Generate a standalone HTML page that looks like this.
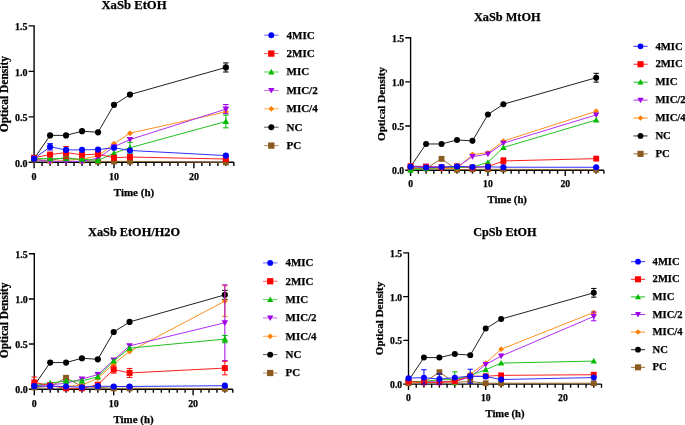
<!DOCTYPE html>
<html><head><meta charset="utf-8"><style>
html,body{margin:0;padding:0;background:#fff;width:685px;height:425px;overflow:hidden;}
svg{display:block;will-change:transform;}
</style></head><body>
<svg width="685" height="425" viewBox="0 0 685 425" font-family="Liberation Serif, serif">
<rect width="685" height="425" fill="#fff"/>
<g><text x="134" y="8.9" font-size="12.7" text-anchor="middle" font-family="Liberation Serif" font-weight="bold" stroke="#000" stroke-width="0.25">XaSb EtOH</text>
<path d="M34.1 25.21V168.3M28.6 162.3H233.85M28.6 116.84H34.1M28.6 71.37H34.1M28.6 25.91H34.1M42.09 162.3V166M50.08 162.3V166M58.07 162.3V166M66.06 162.3V166M74.05 162.3V166M82.04 162.3V166M90.03 162.3V166M98.02 162.3V166M106.01 162.3V166M114 162.3V168.3M121.99 162.3V166M129.98 162.3V166M137.97 162.3V166M145.96 162.3V166M153.95 162.3V166M161.94 162.3V166M169.93 162.3V166M177.92 162.3V166M185.91 162.3V166M193.9 162.3V168.3M201.89 162.3V166M209.88 162.3V166M217.87 162.3V166M225.86 162.3V166M233.85 162.3V166" stroke="#000" stroke-width="1.4" fill="none"/>
<text x="27.5" y="166.5" font-size="10" text-anchor="end" font-family="Liberation Serif" font-weight="bold" stroke="#000" stroke-width="0.25">0.0</text>
<text x="27.5" y="121.04" font-size="10" text-anchor="end" font-family="Liberation Serif" font-weight="bold" stroke="#000" stroke-width="0.25">0.5</text>
<text x="27.5" y="75.57" font-size="10" text-anchor="end" font-family="Liberation Serif" font-weight="bold" stroke="#000" stroke-width="0.25">1.0</text>
<text x="27.5" y="30.11" font-size="10" text-anchor="end" font-family="Liberation Serif" font-weight="bold" stroke="#000" stroke-width="0.25">1.5</text>
<text x="34.1" y="179.8" font-size="10" text-anchor="middle" font-family="Liberation Serif" font-weight="bold" stroke="#000" stroke-width="0.25">0</text>
<text x="114" y="179.8" font-size="10" text-anchor="middle" font-family="Liberation Serif" font-weight="bold" stroke="#000" stroke-width="0.25">10</text>
<text x="193.9" y="179.8" font-size="10" text-anchor="middle" font-family="Liberation Serif" font-weight="bold" stroke="#000" stroke-width="0.25">20</text>
<text x="133.97" y="196.1" font-size="11" text-anchor="middle" font-family="Liberation Serif" font-weight="bold" stroke="#000" stroke-width="0.25">Time (h)</text>
<text transform="translate(7.8 94.1) rotate(-90)" x="0" y="0" font-size="11.5" text-anchor="middle" font-family="Liberation Serif" font-weight="bold" stroke="#000" stroke-width="0.25">Optical Density</text>
<polyline points="34.1,159.57 50.08,160.48 66.06,157.3 82.04,160.48 98.02,161.39 114,161.39 129.98,161.39 225.86,162.3" fill="none" stroke="#9a6a30" stroke-width="1"/>
<rect x="31.1" y="156.57" width="6" height="6" fill="#8b5a1e"/>
<rect x="47.08" y="157.48" width="6" height="6" fill="#8b5a1e"/>
<rect x="63.06" y="154.3" width="6" height="6" fill="#8b5a1e"/>
<rect x="79.04" y="157.48" width="6" height="6" fill="#8b5a1e"/>
<rect x="95.02" y="158.39" width="6" height="6" fill="#8b5a1e"/>
<rect x="111" y="158.39" width="6" height="6" fill="#8b5a1e"/>
<rect x="126.98" y="158.39" width="6" height="6" fill="#8b5a1e"/>
<rect x="222.86" y="159.3" width="6" height="6" fill="#8b5a1e"/>
<polyline points="34.1,158.66 50.08,135.38 66.06,135.38 82.04,131.2 98.02,132.29 114,104.83 129.98,94.56 225.86,67.46" fill="none" stroke="#202020" stroke-width="1"/>
<path d="M225.86 62.91V72.01M223.06 62.91h5.6M223.06 72.01h5.6" stroke="#000000" stroke-width="1" fill="none"/>
<circle cx="34.1" cy="158.66" r="3.1" fill="#000000"/>
<circle cx="50.08" cy="135.38" r="3.1" fill="#000000"/>
<circle cx="66.06" cy="135.38" r="3.1" fill="#000000"/>
<circle cx="82.04" cy="131.2" r="3.1" fill="#000000"/>
<circle cx="98.02" cy="132.29" r="3.1" fill="#000000"/>
<circle cx="114" cy="104.83" r="3.1" fill="#000000"/>
<circle cx="129.98" cy="94.56" r="3.1" fill="#000000"/>
<circle cx="225.86" cy="67.46" r="3.1" fill="#000000"/>
<polyline points="34.1,159.57 50.08,161.39 66.06,160.48 82.04,159.12 98.02,155.93 114,143.66 129.98,133.2 225.86,111.83" fill="none" stroke="#ff9020" stroke-width="1"/>
<path d="M34.1 156.57L37.1 159.57L34.1 162.57L31.1 159.57Z" fill="#ff8000"/>
<path d="M50.08 158.39L53.08 161.39L50.08 164.39L47.08 161.39Z" fill="#ff8000"/>
<path d="M66.06 157.48L69.06 160.48L66.06 163.48L63.06 160.48Z" fill="#ff8000"/>
<path d="M82.04 156.12L85.04 159.12L82.04 162.12L79.04 159.12Z" fill="#ff8000"/>
<path d="M98.02 152.93L101.02 155.93L98.02 158.93L95.02 155.93Z" fill="#ff8000"/>
<path d="M114 140.66L117 143.66L114 146.66L111 143.66Z" fill="#ff8000"/>
<path d="M129.98 130.2L132.98 133.2L129.98 136.2L126.98 133.2Z" fill="#ff8000"/>
<path d="M225.86 108.83L228.86 111.83L225.86 114.83L222.86 111.83Z" fill="#ff8000"/>
<polyline points="34.1,159.57 50.08,161.39 66.06,161.39 82.04,161.39 98.02,158.21 114,146.84 129.98,139.57 225.86,109.11" fill="none" stroke="#b030f0" stroke-width="1"/>
<path d="M225.86 104.56V113.65M223.06 104.56h5.6M223.06 113.65h5.6" stroke="#a000e8" stroke-width="1" fill="none"/>
<path d="M34.1 162.87L37.4 156.97L30.8 156.97Z" fill="#a000e8"/>
<path d="M50.08 164.69L53.38 158.79L46.78 158.79Z" fill="#a000e8"/>
<path d="M66.06 164.69L69.36 158.79L62.76 158.79Z" fill="#a000e8"/>
<path d="M82.04 164.69L85.34 158.79L78.74 158.79Z" fill="#a000e8"/>
<path d="M98.02 161.51L101.32 155.61L94.72 155.61Z" fill="#a000e8"/>
<path d="M114 150.14L117.3 144.24L110.7 144.24Z" fill="#a000e8"/>
<path d="M129.98 142.87L133.28 136.97L126.68 136.97Z" fill="#a000e8"/>
<path d="M225.86 112.41L229.16 106.51L222.56 106.51Z" fill="#a000e8"/>
<polyline points="34.1,158.66 50.08,158.66 66.06,158.66 82.04,159.12 98.02,160.48 114,153.21 129.98,147.75 225.86,121.47" fill="none" stroke="#20c020" stroke-width="1"/>
<path d="M129.98 142.3V153.21M127.18 142.3h5.6M127.18 153.21h5.6" stroke="#00bb00" stroke-width="1" fill="none"/>
<path d="M225.86 115.11V127.84M223.06 115.11h5.6M223.06 127.84h5.6" stroke="#00bb00" stroke-width="1" fill="none"/>
<path d="M34.1 155.36L37.4 161.26L30.8 161.26Z" fill="#00bb00"/>
<path d="M50.08 155.36L53.38 161.26L46.78 161.26Z" fill="#00bb00"/>
<path d="M66.06 155.36L69.36 161.26L62.76 161.26Z" fill="#00bb00"/>
<path d="M82.04 155.82L85.34 161.72L78.74 161.72Z" fill="#00bb00"/>
<path d="M98.02 157.18L101.32 163.08L94.72 163.08Z" fill="#00bb00"/>
<path d="M114 149.91L117.3 155.81L110.7 155.81Z" fill="#00bb00"/>
<path d="M129.98 144.45L133.28 150.35L126.68 150.35Z" fill="#00bb00"/>
<path d="M225.86 118.17L229.16 124.07L222.56 124.07Z" fill="#00bb00"/>
<polyline points="34.1,157.75 50.08,154.57 66.06,152.57 82.04,154.84 98.02,154.12 114,157.75 129.98,157.03 225.86,159.03" fill="none" stroke="#ff2020" stroke-width="1"/>
<path d="M66.06 146.48V158.66M63.26 146.48h5.6M63.26 158.66h5.6" stroke="#ff0000" stroke-width="1" fill="none"/>
<rect x="31.1" y="154.75" width="6" height="6" fill="#ff0000"/>
<rect x="47.08" y="151.57" width="6" height="6" fill="#ff0000"/>
<rect x="63.06" y="149.57" width="6" height="6" fill="#ff0000"/>
<rect x="79.04" y="151.84" width="6" height="6" fill="#ff0000"/>
<rect x="95.02" y="151.12" width="6" height="6" fill="#ff0000"/>
<rect x="111" y="154.75" width="6" height="6" fill="#ff0000"/>
<rect x="126.98" y="154.03" width="6" height="6" fill="#ff0000"/>
<rect x="222.86" y="156.03" width="6" height="6" fill="#ff0000"/>
<polyline points="34.1,158.66 50.08,146.84 66.06,149.93 82.04,149.84 98.02,149.57 114,147.75 129.98,150.48 225.86,155.57" fill="none" stroke="#3030ff" stroke-width="1"/>
<path d="M50.08 143.66V150.02M47.28 143.66h5.6M47.28 150.02h5.6" stroke="#0000ff" stroke-width="1" fill="none"/>
<circle cx="34.1" cy="158.66" r="3.1" fill="#0000ff"/>
<circle cx="50.08" cy="146.84" r="3.1" fill="#0000ff"/>
<circle cx="66.06" cy="149.93" r="3.1" fill="#0000ff"/>
<circle cx="82.04" cy="149.84" r="3.1" fill="#0000ff"/>
<circle cx="98.02" cy="149.57" r="3.1" fill="#0000ff"/>
<circle cx="114" cy="147.75" r="3.1" fill="#0000ff"/>
<circle cx="129.98" cy="150.48" r="3.1" fill="#0000ff"/>
<circle cx="225.86" cy="155.57" r="3.1" fill="#0000ff"/>
<path d="M264.1 35.2H278.6" stroke="#3030ff" stroke-width="1" opacity="0.75"/>
<circle cx="271.3" cy="35.2" r="2.94" fill="#0000ff"/>
<text x="286.5" y="38.5" font-size="11" font-family="Liberation Serif" font-weight="bold" stroke="#000" stroke-width="0.25">4MIC</text>
<path d="M264.1 53.6H278.6" stroke="#ff2020" stroke-width="1" opacity="0.75"/>
<rect x="268.15" y="50.45" width="6.3" height="6.3" fill="#ff0000"/>
<text x="286.5" y="56.9" font-size="11" font-family="Liberation Serif" font-weight="bold" stroke="#000" stroke-width="0.25">2MIC</text>
<path d="M264.1 72H278.6" stroke="#20c020" stroke-width="1" opacity="0.75"/>
<path d="M271.3 68.86L274.44 74.47L268.17 74.47Z" fill="#00bb00"/>
<text x="286.5" y="75.3" font-size="11" font-family="Liberation Serif" font-weight="bold" stroke="#000" stroke-width="0.25">MIC</text>
<path d="M264.1 90.4H278.6" stroke="#b030f0" stroke-width="1" opacity="0.75"/>
<path d="M271.3 93.54L274.44 87.93L268.17 87.93Z" fill="#a000e8"/>
<text x="286.5" y="93.7" font-size="11" font-family="Liberation Serif" font-weight="bold" stroke="#000" stroke-width="0.25">MIC/2</text>
<path d="M264.1 108.8H278.6" stroke="#ff9020" stroke-width="1" opacity="0.75"/>
<path d="M271.3 105.95L274.15 108.8L271.3 111.65L268.45 108.8Z" fill="#ff8000"/>
<text x="286.5" y="112.1" font-size="11" font-family="Liberation Serif" font-weight="bold" stroke="#000" stroke-width="0.25">MIC/4</text>
<path d="M264.1 127.2H278.6" stroke="#202020" stroke-width="1" opacity="0.75"/>
<circle cx="271.3" cy="127.2" r="2.94" fill="#000000"/>
<text x="286.5" y="130.5" font-size="11" font-family="Liberation Serif" font-weight="bold" stroke="#000" stroke-width="0.25">NC</text>
<path d="M264.1 145.6H278.6" stroke="#9a6a30" stroke-width="1" opacity="0.75"/>
<rect x="268.15" y="142.45" width="6.3" height="6.3" fill="#8b5a1e"/>
<text x="286.5" y="148.9" font-size="11" font-family="Liberation Serif" font-weight="bold" stroke="#000" stroke-width="0.25">PC</text></g>
<g><text x="507.3" y="20.8" font-size="12.3" text-anchor="middle" font-family="Liberation Serif" font-weight="bold" stroke="#000" stroke-width="0.25">XaSb MtOH</text>
<path d="M410.6 37.02V176.03M405.25 170.2H603.92M405.25 126.03H410.6M405.25 81.87H410.6M405.25 37.7H410.6M418.33 170.2V173.8M426.07 170.2V173.8M433.8 170.2V173.8M441.53 170.2V173.8M449.27 170.2V173.8M457 170.2V173.8M464.73 170.2V173.8M472.46 170.2V173.8M480.2 170.2V173.8M487.93 170.2V176.03M495.66 170.2V173.8M503.4 170.2V173.8M511.13 170.2V173.8M518.86 170.2V173.8M526.6 170.2V173.8M534.33 170.2V173.8M542.06 170.2V173.8M549.79 170.2V173.8M557.53 170.2V173.8M565.26 170.2V176.03M572.99 170.2V173.8M580.73 170.2V173.8M588.46 170.2V173.8M596.19 170.2V173.8M603.92 170.2V173.8" stroke="#000" stroke-width="1.36" fill="none"/>
<text x="404.18" y="174.28" font-size="9.72" text-anchor="end" font-family="Liberation Serif" font-weight="bold" stroke="#000" stroke-width="0.25">0.0</text>
<text x="404.18" y="130.12" font-size="9.72" text-anchor="end" font-family="Liberation Serif" font-weight="bold" stroke="#000" stroke-width="0.25">0.5</text>
<text x="404.18" y="85.95" font-size="9.72" text-anchor="end" font-family="Liberation Serif" font-weight="bold" stroke="#000" stroke-width="0.25">1.0</text>
<text x="404.18" y="41.79" font-size="9.72" text-anchor="end" font-family="Liberation Serif" font-weight="bold" stroke="#000" stroke-width="0.25">1.5</text>
<text x="410.6" y="187.21" font-size="9.72" text-anchor="middle" font-family="Liberation Serif" font-weight="bold" stroke="#000" stroke-width="0.25">0</text>
<text x="487.93" y="187.21" font-size="9.72" text-anchor="middle" font-family="Liberation Serif" font-weight="bold" stroke="#000" stroke-width="0.25">10</text>
<text x="565.26" y="187.21" font-size="9.72" text-anchor="middle" font-family="Liberation Serif" font-weight="bold" stroke="#000" stroke-width="0.25">20</text>
<text x="507.26" y="203.05" font-size="10.69" text-anchor="middle" font-family="Liberation Serif" font-weight="bold" stroke="#000" stroke-width="0.25">Time (h)</text>
<text transform="translate(385.04 103.95) rotate(-90)" x="0" y="0" font-size="11.18" text-anchor="middle" font-family="Liberation Serif" font-weight="bold" stroke="#000" stroke-width="0.25">Optical Density</text>
<polyline points="410.6,168.43 426.07,168.43 441.53,158.81 457,169.76 472.46,169.32 487.93,169.32 503.4,169.32 596.19,169.76" fill="none" stroke="#9a6a30" stroke-width="1"/>
<rect x="407.68" y="165.52" width="5.83" height="5.83" fill="#8b5a1e"/>
<rect x="423.15" y="165.52" width="5.83" height="5.83" fill="#8b5a1e"/>
<rect x="438.62" y="155.89" width="5.83" height="5.83" fill="#8b5a1e"/>
<rect x="454.08" y="166.84" width="5.83" height="5.83" fill="#8b5a1e"/>
<rect x="469.55" y="166.4" width="5.83" height="5.83" fill="#8b5a1e"/>
<rect x="485.01" y="166.4" width="5.83" height="5.83" fill="#8b5a1e"/>
<rect x="500.48" y="166.4" width="5.83" height="5.83" fill="#8b5a1e"/>
<rect x="593.28" y="166.84" width="5.83" height="5.83" fill="#8b5a1e"/>
<polyline points="410.6,166.67 426.07,143.97 441.53,143.97 457,139.99 472.46,140.87 487.93,114.55 503.4,104.22 596.19,77.72" fill="none" stroke="#202020" stroke-width="1"/>
<path d="M596.19 73.3V82.13M593.47 73.3h5.44M593.47 82.13h5.44" stroke="#000000" stroke-width="1" fill="none"/>
<circle cx="410.6" cy="166.67" r="3.01" fill="#000000"/>
<circle cx="426.07" cy="143.97" r="3.01" fill="#000000"/>
<circle cx="441.53" cy="143.97" r="3.01" fill="#000000"/>
<circle cx="457" cy="139.99" r="3.01" fill="#000000"/>
<circle cx="472.46" cy="140.87" r="3.01" fill="#000000"/>
<circle cx="487.93" cy="114.55" r="3.01" fill="#000000"/>
<circle cx="503.4" cy="104.22" r="3.01" fill="#000000"/>
<circle cx="596.19" cy="77.72" r="3.01" fill="#000000"/>
<polyline points="410.6,167.55 426.07,168.43 441.53,168.43 457,168.43 472.46,154.48 487.93,152.8 503.4,141.05 596.19,111.28" fill="none" stroke="#ff9020" stroke-width="1"/>
<path d="M410.6 164.63L413.52 167.55L410.6 170.47L407.68 167.55Z" fill="#ff8000"/>
<path d="M426.07 165.52L428.98 168.43L426.07 171.35L423.15 168.43Z" fill="#ff8000"/>
<path d="M441.53 165.52L444.45 168.43L441.53 171.35L438.62 168.43Z" fill="#ff8000"/>
<path d="M457 165.52L459.91 168.43L457 171.35L454.08 168.43Z" fill="#ff8000"/>
<path d="M472.46 151.56L475.38 154.48L472.46 157.39L469.55 154.48Z" fill="#ff8000"/>
<path d="M487.93 149.88L490.85 152.8L487.93 155.71L485.01 152.8Z" fill="#ff8000"/>
<path d="M503.4 138.14L506.31 141.05L503.4 143.97L500.48 141.05Z" fill="#ff8000"/>
<path d="M596.19 108.37L599.11 111.28L596.19 114.2L593.28 111.28Z" fill="#ff8000"/>
<polyline points="410.6,166.67 426.07,166.23 441.53,167.11 457,167.11 472.46,156.51 487.93,154.12 503.4,143.17 596.19,114.91" fill="none" stroke="#b030f0" stroke-width="1"/>
<path d="M410.6 169.87L413.81 164.14L407.39 164.14Z" fill="#a000e8"/>
<path d="M426.07 169.43L429.27 163.7L422.86 163.7Z" fill="#a000e8"/>
<path d="M441.53 170.32L444.74 164.58L438.32 164.58Z" fill="#a000e8"/>
<path d="M457 170.32L460.21 164.58L453.79 164.58Z" fill="#a000e8"/>
<path d="M472.46 159.72L475.67 153.98L469.26 153.98Z" fill="#a000e8"/>
<path d="M487.93 157.33L491.14 151.6L484.72 151.6Z" fill="#a000e8"/>
<path d="M503.4 146.38L506.6 140.64L500.19 140.64Z" fill="#a000e8"/>
<path d="M596.19 118.11L599.4 112.38L592.98 112.38Z" fill="#a000e8"/>
<polyline points="410.6,170.2 426.07,168.43 441.53,167.55 457,167.55 472.46,167.02 487.93,162.34 503.4,147.5 596.19,120.03" fill="none" stroke="#20c020" stroke-width="1"/>
<path d="M410.6 166.99L413.81 172.73L407.39 172.73Z" fill="#00bb00"/>
<path d="M426.07 165.23L429.27 170.96L422.86 170.96Z" fill="#00bb00"/>
<path d="M441.53 164.34L444.74 170.08L438.32 170.08Z" fill="#00bb00"/>
<path d="M457 164.34L460.21 170.08L453.79 170.08Z" fill="#00bb00"/>
<path d="M472.46 163.81L475.67 169.55L469.26 169.55Z" fill="#00bb00"/>
<path d="M487.93 159.13L491.14 164.87L484.72 164.87Z" fill="#00bb00"/>
<path d="M503.4 144.29L506.6 150.03L500.19 150.03Z" fill="#00bb00"/>
<path d="M596.19 116.82L599.4 122.56L592.98 122.56Z" fill="#00bb00"/>
<polyline points="410.6,166.23 426.07,166.67 441.53,167.55 457,166.23 472.46,167.55 487.93,166.67 503.4,160.93 596.19,158.63" fill="none" stroke="#ff2020" stroke-width="1"/>
<path d="M503.4 157.83V164.02M500.67 157.83h5.44M500.67 164.02h5.44" stroke="#ff0000" stroke-width="1" fill="none"/>
<rect x="407.68" y="163.31" width="5.83" height="5.83" fill="#ff0000"/>
<rect x="423.15" y="163.75" width="5.83" height="5.83" fill="#ff0000"/>
<rect x="438.62" y="164.63" width="5.83" height="5.83" fill="#ff0000"/>
<rect x="454.08" y="163.31" width="5.83" height="5.83" fill="#ff0000"/>
<rect x="469.55" y="164.63" width="5.83" height="5.83" fill="#ff0000"/>
<rect x="485.01" y="163.75" width="5.83" height="5.83" fill="#ff0000"/>
<rect x="500.48" y="158.01" width="5.83" height="5.83" fill="#ff0000"/>
<rect x="593.28" y="155.71" width="5.83" height="5.83" fill="#ff0000"/>
<polyline points="410.6,166.67 426.07,167.55 441.53,167.11 457,166.4 472.46,167.02 487.93,166.84 503.4,167.2 596.19,167.29" fill="none" stroke="#3030ff" stroke-width="1"/>
<circle cx="410.6" cy="166.67" r="3.01" fill="#0000ff"/>
<circle cx="426.07" cy="167.55" r="3.01" fill="#0000ff"/>
<circle cx="441.53" cy="167.11" r="3.01" fill="#0000ff"/>
<circle cx="457" cy="166.4" r="3.01" fill="#0000ff"/>
<circle cx="472.46" cy="167.02" r="3.01" fill="#0000ff"/>
<circle cx="487.93" cy="166.84" r="3.01" fill="#0000ff"/>
<circle cx="503.4" cy="167.2" r="3.01" fill="#0000ff"/>
<circle cx="596.19" cy="167.29" r="3.01" fill="#0000ff"/>
<path d="M633.5 46.3H647.6" stroke="#3030ff" stroke-width="1" opacity="1.0"/>
<circle cx="640.5" cy="46.3" r="2.86" fill="#0000ff"/>
<text x="655.4" y="49.51" font-size="10.69" font-family="Liberation Serif" font-weight="bold" stroke="#000" stroke-width="0.25">4MIC</text>
<path d="M633.5 64.23H647.6" stroke="#ff2020" stroke-width="1" opacity="1.0"/>
<rect x="637.44" y="61.17" width="6.12" height="6.12" fill="#ff0000"/>
<text x="655.4" y="67.44" font-size="10.69" font-family="Liberation Serif" font-weight="bold" stroke="#000" stroke-width="0.25">2MIC</text>
<path d="M633.5 82.16H647.6" stroke="#20c020" stroke-width="1" opacity="1.0"/>
<path d="M640.5 79.11L643.55 84.56L637.45 84.56Z" fill="#00bb00"/>
<text x="655.4" y="85.37" font-size="10.69" font-family="Liberation Serif" font-weight="bold" stroke="#000" stroke-width="0.25">MIC</text>
<path d="M633.5 100.09H647.6" stroke="#b030f0" stroke-width="1" opacity="1.0"/>
<path d="M640.5 103.14L643.55 97.69L637.45 97.69Z" fill="#a000e8"/>
<text x="655.4" y="103.3" font-size="10.69" font-family="Liberation Serif" font-weight="bold" stroke="#000" stroke-width="0.25">MIC/2</text>
<path d="M633.5 118.02H647.6" stroke="#ff9020" stroke-width="1" opacity="1.0"/>
<path d="M640.5 115.25L643.27 118.02L640.5 120.79L637.73 118.02Z" fill="#ff8000"/>
<text x="655.4" y="121.23" font-size="10.69" font-family="Liberation Serif" font-weight="bold" stroke="#000" stroke-width="0.25">MIC/4</text>
<path d="M633.5 135.95H647.6" stroke="#202020" stroke-width="1" opacity="1.0"/>
<circle cx="640.5" cy="135.95" r="2.86" fill="#000000"/>
<text x="655.4" y="139.16" font-size="10.69" font-family="Liberation Serif" font-weight="bold" stroke="#000" stroke-width="0.25">NC</text>
<path d="M633.5 153.88H647.6" stroke="#9a6a30" stroke-width="1" opacity="1.0"/>
<rect x="637.44" y="150.82" width="6.12" height="6.12" fill="#8b5a1e"/>
<text x="655.4" y="157.09" font-size="10.69" font-family="Liberation Serif" font-weight="bold" stroke="#000" stroke-width="0.25">PC</text></g>
<g><text x="134" y="236.1" font-size="12.3" text-anchor="middle" font-family="Liberation Serif" font-weight="bold" stroke="#000" stroke-width="0.25">XaSb EtOH/H2O</text>
<path d="M34.3 253.1V395.16M28.84 389.2H232.8M28.84 344.06H34.3M28.84 298.93H34.3M28.84 253.79H34.3M42.24 389.2V392.87M50.18 389.2V392.87M58.12 389.2V392.87M66.06 389.2V392.87M74 389.2V392.87M81.94 389.2V392.87M89.88 389.2V392.87M97.82 389.2V392.87M105.76 389.2V392.87M113.7 389.2V395.16M121.64 389.2V392.87M129.58 389.2V392.87M137.52 389.2V392.87M145.46 389.2V392.87M153.4 389.2V392.87M161.34 389.2V392.87M169.28 389.2V392.87M177.22 389.2V392.87M185.16 389.2V392.87M193.1 389.2V395.16M201.04 389.2V392.87M208.98 389.2V392.87M216.92 389.2V392.87M224.86 389.2V392.87M232.8 389.2V392.87" stroke="#000" stroke-width="1.39" fill="none"/>
<text x="27.75" y="393.37" font-size="9.93" text-anchor="end" font-family="Liberation Serif" font-weight="bold" stroke="#000" stroke-width="0.25">0.0</text>
<text x="27.75" y="348.24" font-size="9.93" text-anchor="end" font-family="Liberation Serif" font-weight="bold" stroke="#000" stroke-width="0.25">0.5</text>
<text x="27.75" y="303.1" font-size="9.93" text-anchor="end" font-family="Liberation Serif" font-weight="bold" stroke="#000" stroke-width="0.25">1.0</text>
<text x="27.75" y="257.97" font-size="9.93" text-anchor="end" font-family="Liberation Serif" font-weight="bold" stroke="#000" stroke-width="0.25">1.5</text>
<text x="34.3" y="406.58" font-size="9.93" text-anchor="middle" font-family="Liberation Serif" font-weight="bold" stroke="#000" stroke-width="0.25">0</text>
<text x="113.7" y="406.58" font-size="9.93" text-anchor="middle" font-family="Liberation Serif" font-weight="bold" stroke="#000" stroke-width="0.25">10</text>
<text x="193.1" y="406.58" font-size="9.93" text-anchor="middle" font-family="Liberation Serif" font-weight="bold" stroke="#000" stroke-width="0.25">20</text>
<text x="133.55" y="422.76" font-size="10.92" text-anchor="middle" font-family="Liberation Serif" font-weight="bold" stroke="#000" stroke-width="0.25">Time (h)</text>
<text transform="translate(8.18 320.3) rotate(-90)" x="0" y="0" font-size="11.42" text-anchor="middle" font-family="Liberation Serif" font-weight="bold" stroke="#000" stroke-width="0.25">Optical Density</text>
<polyline points="34.3,387.39 50.18,386.49 66.06,377.83 81.94,386.49 97.82,387.39 113.7,388.3 129.58,388.3 224.86,388.75" fill="none" stroke="#9a6a30" stroke-width="1"/>
<rect x="31.32" y="384.42" width="5.96" height="5.96" fill="#8b5a1e"/>
<rect x="47.2" y="383.51" width="5.96" height="5.96" fill="#8b5a1e"/>
<rect x="63.08" y="374.85" width="5.96" height="5.96" fill="#8b5a1e"/>
<rect x="78.96" y="383.51" width="5.96" height="5.96" fill="#8b5a1e"/>
<rect x="94.84" y="384.42" width="5.96" height="5.96" fill="#8b5a1e"/>
<rect x="110.72" y="385.32" width="5.96" height="5.96" fill="#8b5a1e"/>
<rect x="126.6" y="385.32" width="5.96" height="5.96" fill="#8b5a1e"/>
<rect x="221.88" y="385.77" width="5.96" height="5.96" fill="#8b5a1e"/>
<polyline points="34.3,385.59 50.18,362.57 66.06,362.57 81.94,358.24 97.82,359.32 113.7,331.97 129.58,321.95 224.86,294.87" fill="none" stroke="#202020" stroke-width="1"/>
<path d="M224.86 290.35V299.38M222.08 290.35h5.56M222.08 299.38h5.56" stroke="#000000" stroke-width="1" fill="none"/>
<circle cx="34.3" cy="385.59" r="3.08" fill="#000000"/>
<circle cx="50.18" cy="362.57" r="3.08" fill="#000000"/>
<circle cx="66.06" cy="362.57" r="3.08" fill="#000000"/>
<circle cx="81.94" cy="358.24" r="3.08" fill="#000000"/>
<circle cx="97.82" cy="359.32" r="3.08" fill="#000000"/>
<circle cx="113.7" cy="331.97" r="3.08" fill="#000000"/>
<circle cx="129.58" cy="321.95" r="3.08" fill="#000000"/>
<circle cx="224.86" cy="294.87" r="3.08" fill="#000000"/>
<polyline points="34.3,386.49 50.18,386.49 66.06,386.49 81.94,385.14 97.82,378.37 113.7,363.92 129.58,351.47 224.86,301.1" fill="none" stroke="#ff9020" stroke-width="1"/>
<path d="M224.86 285.75V316.44M222.08 285.75h5.56M222.08 316.44h5.56" stroke="#ff8000" stroke-width="1" fill="none"/>
<path d="M34.3 383.51L37.28 386.49L34.3 389.47L31.32 386.49Z" fill="#ff8000"/>
<path d="M50.18 383.51L53.16 386.49L50.18 389.47L47.2 386.49Z" fill="#ff8000"/>
<path d="M66.06 383.51L69.04 386.49L66.06 389.47L63.08 386.49Z" fill="#ff8000"/>
<path d="M81.94 382.16L84.92 385.14L81.94 388.12L78.96 385.14Z" fill="#ff8000"/>
<path d="M97.82 375.39L100.8 378.37L97.82 381.35L94.84 378.37Z" fill="#ff8000"/>
<path d="M113.7 360.95L116.68 363.92L113.7 366.9L110.72 363.92Z" fill="#ff8000"/>
<path d="M129.58 348.49L132.56 351.47L129.58 354.45L126.6 351.47Z" fill="#ff8000"/>
<path d="M224.86 298.12L227.84 301.1L224.86 304.08L221.88 301.1Z" fill="#ff8000"/>
<polyline points="34.3,385.59 50.18,384.69 66.06,383.33 81.94,379 97.82,374.58 113.7,360.04 129.58,345.87 224.86,322.76" fill="none" stroke="#b030f0" stroke-width="1"/>
<path d="M224.86 284.85V360.67M222.08 284.85h5.56M222.08 360.67h5.56" stroke="#a000e8" stroke-width="1" fill="none"/>
<path d="M34.3 388.87L37.58 383.01L31.02 383.01Z" fill="#a000e8"/>
<path d="M50.18 387.96L53.46 382.1L46.9 382.1Z" fill="#a000e8"/>
<path d="M66.06 386.61L69.34 380.75L62.78 380.75Z" fill="#a000e8"/>
<path d="M81.94 382.28L85.22 376.42L78.66 376.42Z" fill="#a000e8"/>
<path d="M97.82 377.85L101.1 371.99L94.54 371.99Z" fill="#a000e8"/>
<path d="M113.7 363.32L116.98 357.46L110.42 357.46Z" fill="#a000e8"/>
<path d="M129.58 349.15L132.86 343.29L126.3 343.29Z" fill="#a000e8"/>
<path d="M224.86 326.04L228.14 320.18L221.58 320.18Z" fill="#a000e8"/>
<polyline points="34.3,385.59 50.18,383.06 66.06,381.08 81.94,380.9 97.82,376.83 113.7,360.95 129.58,348.13 224.86,339.1" fill="none" stroke="#20c020" stroke-width="1"/>
<path d="M224.86 335.49V342.71M222.08 335.49h5.56M222.08 342.71h5.56" stroke="#00bb00" stroke-width="1" fill="none"/>
<path d="M34.3 382.31L37.58 388.17L31.02 388.17Z" fill="#00bb00"/>
<path d="M50.18 379.78L53.46 385.64L46.9 385.64Z" fill="#00bb00"/>
<path d="M66.06 377.8L69.34 383.66L62.78 383.66Z" fill="#00bb00"/>
<path d="M81.94 377.62L85.22 383.48L78.66 383.48Z" fill="#00bb00"/>
<path d="M97.82 373.56L101.1 379.41L94.54 379.41Z" fill="#00bb00"/>
<path d="M113.7 357.67L116.98 363.53L110.42 363.53Z" fill="#00bb00"/>
<path d="M129.58 344.85L132.86 350.71L126.3 350.71Z" fill="#00bb00"/>
<path d="M224.86 335.82L228.14 341.68L221.58 341.68Z" fill="#00bb00"/>
<polyline points="34.3,382.43 50.18,385.59 66.06,388.3 81.94,388.3 97.82,384.69 113.7,369.52 129.58,372.95 224.86,368.08" fill="none" stroke="#ff2020" stroke-width="1"/>
<path d="M34.3 377.01V387.85M31.52 377.01h5.56M31.52 387.85h5.56" stroke="#ff0000" stroke-width="1" fill="none"/>
<path d="M113.7 365.91V373.13M110.92 365.91h5.56M110.92 373.13h5.56" stroke="#ff0000" stroke-width="1" fill="none"/>
<path d="M129.58 368.44V377.46M126.8 368.44h5.56M126.8 377.46h5.56" stroke="#ff0000" stroke-width="1" fill="none"/>
<path d="M224.86 361.31V374.85M222.08 361.31h5.56M222.08 374.85h5.56" stroke="#ff0000" stroke-width="1" fill="none"/>
<rect x="31.32" y="379.45" width="5.96" height="5.96" fill="#ff0000"/>
<rect x="47.2" y="382.61" width="5.96" height="5.96" fill="#ff0000"/>
<rect x="63.08" y="385.32" width="5.96" height="5.96" fill="#ff0000"/>
<rect x="78.96" y="385.32" width="5.96" height="5.96" fill="#ff0000"/>
<rect x="94.84" y="381.71" width="5.96" height="5.96" fill="#ff0000"/>
<rect x="110.72" y="366.54" width="5.96" height="5.96" fill="#ff0000"/>
<rect x="126.6" y="369.97" width="5.96" height="5.96" fill="#ff0000"/>
<rect x="221.88" y="365.1" width="5.96" height="5.96" fill="#ff0000"/>
<polyline points="34.3,386.13 50.18,386.13 66.06,386.49 81.94,387.21 97.82,386.13 113.7,386.49 129.58,386.49 224.86,385.68" fill="none" stroke="#3030ff" stroke-width="1"/>
<circle cx="34.3" cy="386.13" r="3.08" fill="#0000ff"/>
<circle cx="50.18" cy="386.13" r="3.08" fill="#0000ff"/>
<circle cx="66.06" cy="386.49" r="3.08" fill="#0000ff"/>
<circle cx="81.94" cy="387.21" r="3.08" fill="#0000ff"/>
<circle cx="97.82" cy="386.13" r="3.08" fill="#0000ff"/>
<circle cx="113.7" cy="386.49" r="3.08" fill="#0000ff"/>
<circle cx="129.58" cy="386.49" r="3.08" fill="#0000ff"/>
<circle cx="224.86" cy="385.68" r="3.08" fill="#0000ff"/>
<path d="M262.9 262.9H277.4" stroke="#3030ff" stroke-width="1" opacity="0.75"/>
<circle cx="270.2" cy="262.9" r="2.92" fill="#0000ff"/>
<text x="285.6" y="266.18" font-size="10.92" font-family="Liberation Serif" font-weight="bold" stroke="#000" stroke-width="0.25">4MIC</text>
<path d="M262.9 281.25H277.4" stroke="#ff2020" stroke-width="1" opacity="0.75"/>
<rect x="267.07" y="278.12" width="6.26" height="6.26" fill="#ff0000"/>
<text x="285.6" y="284.53" font-size="10.92" font-family="Liberation Serif" font-weight="bold" stroke="#000" stroke-width="0.25">2MIC</text>
<path d="M262.9 299.6H277.4" stroke="#20c020" stroke-width="1" opacity="0.75"/>
<path d="M270.2 296.49L273.31 302.05L267.09 302.05Z" fill="#00bb00"/>
<text x="285.6" y="302.88" font-size="10.92" font-family="Liberation Serif" font-weight="bold" stroke="#000" stroke-width="0.25">MIC</text>
<path d="M262.9 317.95H277.4" stroke="#b030f0" stroke-width="1" opacity="0.75"/>
<path d="M270.2 321.06L273.31 315.5L267.09 315.5Z" fill="#a000e8"/>
<text x="285.6" y="321.23" font-size="10.92" font-family="Liberation Serif" font-weight="bold" stroke="#000" stroke-width="0.25">MIC/2</text>
<path d="M262.9 336.3H277.4" stroke="#ff9020" stroke-width="1" opacity="0.75"/>
<path d="M270.2 333.47L273.03 336.3L270.2 339.13L267.37 336.3Z" fill="#ff8000"/>
<text x="285.6" y="339.58" font-size="10.92" font-family="Liberation Serif" font-weight="bold" stroke="#000" stroke-width="0.25">MIC/4</text>
<path d="M262.9 354.65H277.4" stroke="#202020" stroke-width="1" opacity="0.75"/>
<circle cx="270.2" cy="354.65" r="2.92" fill="#000000"/>
<text x="285.6" y="357.93" font-size="10.92" font-family="Liberation Serif" font-weight="bold" stroke="#000" stroke-width="0.25">NC</text>
<path d="M262.9 373H277.4" stroke="#9a6a30" stroke-width="1" opacity="0.75"/>
<rect x="267.07" y="369.87" width="6.26" height="6.26" fill="#8b5a1e"/>
<text x="285.6" y="376.28" font-size="10.92" font-family="Liberation Serif" font-weight="bold" stroke="#000" stroke-width="0.25">PC</text></g>
<g><text x="504.9" y="235.6" font-size="12.2" text-anchor="middle" font-family="Liberation Serif" font-weight="bold" stroke="#000" stroke-width="0.25">CpSb EtOH</text>
<path d="M408.5 252.13V389.88M403.2 384.1H601.5M403.2 340.34H408.5M403.2 296.57H408.5M403.2 252.81H408.5M416.22 384.1V387.66M423.94 384.1V387.66M431.66 384.1V387.66M439.38 384.1V387.66M447.1 384.1V387.66M454.82 384.1V387.66M462.54 384.1V387.66M470.26 384.1V387.66M477.98 384.1V387.66M485.7 384.1V389.88M493.42 384.1V387.66M501.14 384.1V387.66M508.86 384.1V387.66M516.58 384.1V387.66M524.3 384.1V387.66M532.02 384.1V387.66M539.74 384.1V387.66M547.46 384.1V387.66M555.18 384.1V387.66M562.9 384.1V389.88M570.62 384.1V387.66M578.34 384.1V387.66M586.06 384.1V387.66M593.78 384.1V387.66M601.5 384.1V387.66" stroke="#000" stroke-width="1.35" fill="none"/>
<text x="402.14" y="388.14" font-size="9.63" text-anchor="end" font-family="Liberation Serif" font-weight="bold" stroke="#000" stroke-width="0.25">0.0</text>
<text x="402.14" y="344.38" font-size="9.63" text-anchor="end" font-family="Liberation Serif" font-weight="bold" stroke="#000" stroke-width="0.25">0.5</text>
<text x="402.14" y="300.61" font-size="9.63" text-anchor="end" font-family="Liberation Serif" font-weight="bold" stroke="#000" stroke-width="0.25">1.0</text>
<text x="402.14" y="256.85" font-size="9.63" text-anchor="end" font-family="Liberation Serif" font-weight="bold" stroke="#000" stroke-width="0.25">1.5</text>
<text x="408.5" y="400.95" font-size="9.63" text-anchor="middle" font-family="Liberation Serif" font-weight="bold" stroke="#000" stroke-width="0.25">0</text>
<text x="485.7" y="400.95" font-size="9.63" text-anchor="middle" font-family="Liberation Serif" font-weight="bold" stroke="#000" stroke-width="0.25">10</text>
<text x="562.9" y="400.95" font-size="9.63" text-anchor="middle" font-family="Liberation Serif" font-weight="bold" stroke="#000" stroke-width="0.25">20</text>
<text x="505" y="416.65" font-size="10.59" text-anchor="middle" font-family="Liberation Serif" font-weight="bold" stroke="#000" stroke-width="0.25">Time (h)</text>
<text transform="translate(383.17 318.45) rotate(-90)" x="0" y="0" font-size="11.07" text-anchor="middle" font-family="Liberation Serif" font-weight="bold" stroke="#000" stroke-width="0.25">Optical Density</text>
<polyline points="408.5,383.22 423.94,382.35 439.38,372.2 454.82,382.35 470.26,381.47 485.7,383.22 501.14,383.22 593.78,383.22" fill="none" stroke="#9a6a30" stroke-width="1"/>
<rect x="405.61" y="380.34" width="5.78" height="5.78" fill="#8b5a1e"/>
<rect x="421.05" y="379.46" width="5.78" height="5.78" fill="#8b5a1e"/>
<rect x="436.49" y="369.31" width="5.78" height="5.78" fill="#8b5a1e"/>
<rect x="451.93" y="379.46" width="5.78" height="5.78" fill="#8b5a1e"/>
<rect x="467.37" y="378.59" width="5.78" height="5.78" fill="#8b5a1e"/>
<rect x="482.81" y="380.34" width="5.78" height="5.78" fill="#8b5a1e"/>
<rect x="498.25" y="380.34" width="5.78" height="5.78" fill="#8b5a1e"/>
<rect x="590.89" y="380.34" width="5.78" height="5.78" fill="#8b5a1e"/>
<polyline points="408.5,380.6 423.94,357.58 439.38,357.58 454.82,353.99 470.26,355.13 485.7,328.61 501.14,319.07 593.78,292.81" fill="none" stroke="#202020" stroke-width="1"/>
<path d="M593.78 288.43V297.18M591.08 288.43h5.39M591.08 297.18h5.39" stroke="#000000" stroke-width="1" fill="none"/>
<circle cx="408.5" cy="380.6" r="2.99" fill="#000000"/>
<circle cx="423.94" cy="357.58" r="2.99" fill="#000000"/>
<circle cx="439.38" cy="357.58" r="2.99" fill="#000000"/>
<circle cx="454.82" cy="353.99" r="2.99" fill="#000000"/>
<circle cx="470.26" cy="355.13" r="2.99" fill="#000000"/>
<circle cx="485.7" cy="328.61" r="2.99" fill="#000000"/>
<circle cx="501.14" cy="319.07" r="2.99" fill="#000000"/>
<circle cx="593.78" cy="292.81" r="2.99" fill="#000000"/>
<polyline points="408.5,382.35 423.94,382.35 439.38,382.35 454.82,382.35 470.26,374.03 485.7,363.09 501.14,349.18 593.78,312.41" fill="none" stroke="#ff9020" stroke-width="1"/>
<path d="M408.5 379.46L411.39 382.35L408.5 385.24L405.61 382.35Z" fill="#ff8000"/>
<path d="M423.94 379.46L426.83 382.35L423.94 385.24L421.05 382.35Z" fill="#ff8000"/>
<path d="M439.38 379.46L442.27 382.35L439.38 385.24L436.49 382.35Z" fill="#ff8000"/>
<path d="M454.82 379.46L457.71 382.35L454.82 385.24L451.93 382.35Z" fill="#ff8000"/>
<path d="M470.26 371.15L473.15 374.03L470.26 376.92L467.37 374.03Z" fill="#ff8000"/>
<path d="M485.7 360.2L488.59 363.09L485.7 365.98L482.81 363.09Z" fill="#ff8000"/>
<path d="M501.14 346.29L504.03 349.18L501.14 352.06L498.25 349.18Z" fill="#ff8000"/>
<path d="M593.78 309.52L596.67 312.41L593.78 315.3L590.89 312.41Z" fill="#ff8000"/>
<polyline points="408.5,381.47 423.94,381.47 439.38,382 454.82,381.47 470.26,377.1 485.7,364.49 501.14,356.09 593.78,316.44" fill="none" stroke="#b030f0" stroke-width="1"/>
<path d="M593.78 312.06V320.82M591.08 312.06h5.39M591.08 320.82h5.39" stroke="#a000e8" stroke-width="1" fill="none"/>
<path d="M408.5 384.65L411.68 378.97L405.32 378.97Z" fill="#a000e8"/>
<path d="M423.94 384.65L427.12 378.97L420.76 378.97Z" fill="#a000e8"/>
<path d="M439.38 385.18L442.56 379.5L436.2 379.5Z" fill="#a000e8"/>
<path d="M454.82 384.65L458 378.97L451.64 378.97Z" fill="#a000e8"/>
<path d="M470.26 380.28L473.44 374.59L467.08 374.59Z" fill="#a000e8"/>
<path d="M485.7 367.67L488.88 361.99L482.52 361.99Z" fill="#a000e8"/>
<path d="M501.14 359.27L504.32 353.59L497.96 353.59Z" fill="#a000e8"/>
<path d="M593.78 319.62L596.96 313.94L590.6 313.94Z" fill="#a000e8"/>
<polyline points="408.5,381.47 423.94,381.47 439.38,379.72 454.82,379.72 470.26,375.35 485.7,369.66 501.14,363.09 593.78,361.08" fill="none" stroke="#20c020" stroke-width="1"/>
<path d="M454.82 371.85V384.1M452.12 371.85h5.39M452.12 384.1h5.39" stroke="#00bb00" stroke-width="1" fill="none"/>
<path d="M408.5 378.3L411.68 383.98L405.32 383.98Z" fill="#00bb00"/>
<path d="M423.94 378.3L427.12 383.98L420.76 383.98Z" fill="#00bb00"/>
<path d="M439.38 376.55L442.56 382.23L436.2 382.23Z" fill="#00bb00"/>
<path d="M454.82 376.55L458 382.23L451.64 382.23Z" fill="#00bb00"/>
<path d="M470.26 372.17L473.44 377.85L467.08 377.85Z" fill="#00bb00"/>
<path d="M485.7 366.48L488.88 372.16L482.52 372.16Z" fill="#00bb00"/>
<path d="M501.14 359.91L504.32 365.6L497.96 365.6Z" fill="#00bb00"/>
<path d="M593.78 357.9L596.96 363.58L590.6 363.58Z" fill="#00bb00"/>
<polyline points="408.5,381.47 423.94,382.35 439.38,382.35 454.82,381.04 470.26,376.22 485.7,376.22 501.14,375.35 593.78,374.73" fill="none" stroke="#ff2020" stroke-width="1"/>
<rect x="405.61" y="378.59" width="5.78" height="5.78" fill="#ff0000"/>
<rect x="421.05" y="379.46" width="5.78" height="5.78" fill="#ff0000"/>
<rect x="436.49" y="379.46" width="5.78" height="5.78" fill="#ff0000"/>
<rect x="451.93" y="378.15" width="5.78" height="5.78" fill="#ff0000"/>
<rect x="467.37" y="373.33" width="5.78" height="5.78" fill="#ff0000"/>
<rect x="482.81" y="373.33" width="5.78" height="5.78" fill="#ff0000"/>
<rect x="498.25" y="372.46" width="5.78" height="5.78" fill="#ff0000"/>
<rect x="590.89" y="371.85" width="5.78" height="5.78" fill="#ff0000"/>
<polyline points="408.5,378.15 423.94,377.62 439.38,379.11 454.82,377.62 470.26,376.22 485.7,376.57 501.14,379.55 593.78,377.54" fill="none" stroke="#3030ff" stroke-width="1"/>
<path d="M423.94 369.75V384.1M421.24 369.75h5.39M421.24 384.1h5.39" stroke="#0000ff" stroke-width="1" fill="none"/>
<path d="M439.38 373.86V384.1M436.68 373.86h5.39M436.68 384.1h5.39" stroke="#0000ff" stroke-width="1" fill="none"/>
<path d="M470.26 369.22V383.22M467.56 369.22h5.39M467.56 383.22h5.39" stroke="#0000ff" stroke-width="1" fill="none"/>
<circle cx="408.5" cy="378.15" r="2.99" fill="#0000ff"/>
<circle cx="423.94" cy="377.62" r="2.99" fill="#0000ff"/>
<circle cx="439.38" cy="379.11" r="2.99" fill="#0000ff"/>
<circle cx="454.82" cy="377.62" r="2.99" fill="#0000ff"/>
<circle cx="470.26" cy="376.22" r="2.99" fill="#0000ff"/>
<circle cx="485.7" cy="376.57" r="2.99" fill="#0000ff"/>
<circle cx="501.14" cy="379.55" r="2.99" fill="#0000ff"/>
<circle cx="593.78" cy="377.54" r="2.99" fill="#0000ff"/>
<path d="M631 261.7H645.1" stroke="#3030ff" stroke-width="1" opacity="1.0"/>
<circle cx="638" cy="261.7" r="2.84" fill="#0000ff"/>
<text x="652.6" y="264.88" font-size="10.59" font-family="Liberation Serif" font-weight="bold" stroke="#000" stroke-width="0.25">4MIC</text>
<path d="M631 279.3H645.1" stroke="#ff2020" stroke-width="1" opacity="1.0"/>
<rect x="634.97" y="276.27" width="6.07" height="6.07" fill="#ff0000"/>
<text x="652.6" y="282.48" font-size="10.59" font-family="Liberation Serif" font-weight="bold" stroke="#000" stroke-width="0.25">2MIC</text>
<path d="M631 296.9H645.1" stroke="#20c020" stroke-width="1" opacity="1.0"/>
<path d="M638 293.88L641.02 299.28L634.98 299.28Z" fill="#00bb00"/>
<text x="652.6" y="300.08" font-size="10.59" font-family="Liberation Serif" font-weight="bold" stroke="#000" stroke-width="0.25">MIC</text>
<path d="M631 314.5H645.1" stroke="#b030f0" stroke-width="1" opacity="1.0"/>
<path d="M638 317.52L641.02 312.12L634.98 312.12Z" fill="#a000e8"/>
<text x="652.6" y="317.68" font-size="10.59" font-family="Liberation Serif" font-weight="bold" stroke="#000" stroke-width="0.25">MIC/2</text>
<path d="M631 332.1H645.1" stroke="#ff9020" stroke-width="1" opacity="1.0"/>
<path d="M638 329.36L640.74 332.1L638 334.84L635.26 332.1Z" fill="#ff8000"/>
<text x="652.6" y="335.28" font-size="10.59" font-family="Liberation Serif" font-weight="bold" stroke="#000" stroke-width="0.25">MIC/4</text>
<path d="M631 349.7H645.1" stroke="#202020" stroke-width="1" opacity="1.0"/>
<circle cx="638" cy="349.7" r="2.84" fill="#000000"/>
<text x="652.6" y="352.88" font-size="10.59" font-family="Liberation Serif" font-weight="bold" stroke="#000" stroke-width="0.25">NC</text>
<path d="M631 367.3H645.1" stroke="#9a6a30" stroke-width="1" opacity="1.0"/>
<rect x="634.97" y="364.27" width="6.07" height="6.07" fill="#8b5a1e"/>
<text x="652.6" y="370.48" font-size="10.59" font-family="Liberation Serif" font-weight="bold" stroke="#000" stroke-width="0.25">PC</text></g>
</svg>
</body></html>
